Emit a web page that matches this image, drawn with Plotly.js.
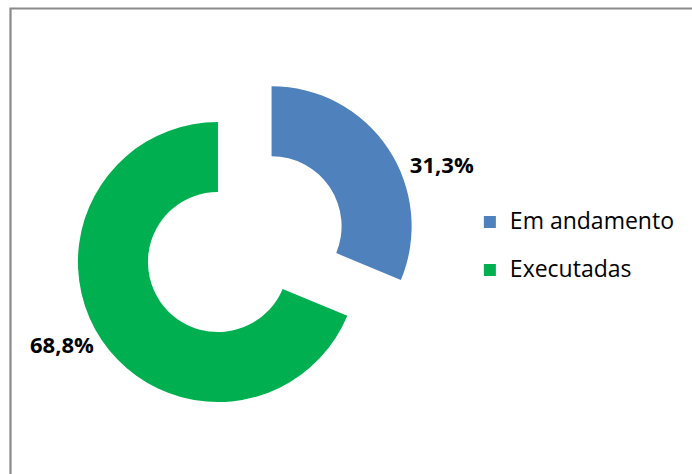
<!DOCTYPE html>
<html>
<head>
<meta charset="utf-8">
<script src="https://cdn.plot.ly/plotly-3.0.1.min.js"></script>
<style>
  html, body { margin: 0; padding: 0; background: #ffffff; }
  #chart { width: 692px; height: 474px; }
</style>
</head>
<body>
<div id="chart"></div>
<script>
var categories = ['Em andamento', 'Executadas'];
var percentValues = [31.3, 68.8];
var sliceColors = ['#4F81BD', '#00B050'];

// label placement helpers (blank leading lines push the outside label down)
var labelLeadingLines = [2, 0];

var labelTexts = percentValues.map(function (v, i) {
  var pre = '';
  for (var k = 0; k < labelLeadingLines[i]; k++) pre += '&nbsp;<br>';
  return pre + v.toFixed(1).replace('.', ',') + '%';
});
var legendLabels = categories.map(function (c) {
  return '<span style="font-size:23px">' + c + '</span><br> ';
});

var trace = {
  type: 'pie',
  labels: legendLabels,
  values: percentValues,
  text: labelTexts,
  textinfo: 'text',
  textposition: 'outside',
  sort: false,
  direction: 'clockwise',
  rotation: 0,
  hole: 0.5,
  pull: [0.46, 0],
  marker: { colors: sliceColors, line: { width: 0 } },
  outsidetextfont: { family: 'Open Sans, sans-serif', size: 22, color: '#000000', weight: 'bold' },
  domain: { x: [0.0195, 0.6105], y: [0.0158, 0.8787] },
  hoverinfo: 'text',
  hovertext: categories
};

var layout = {
  width: 692,
  height: 474,
  margin: { l: 0, r: 0, t: 0, b: 0 },
  paper_bgcolor: '#ffffff',
  showlegend: true,
  legend: {
    x: 0.679,
    xanchor: 'left',
    y: 0.569,
    yanchor: 'top',
    valign: 'top',
    font: { family: 'Open Sans, sans-serif', size: 17.3, color: '#000000' },
    bgcolor: 'rgba(0,0,0,0)'
  },
  shapes: [{
    type: 'rect', xref: 'paper', yref: 'paper',
    x0: 10.5 / 692, x1: 1.05, y0: -0.05, y1: (474 - 8.5) / 474,
    line: { color: '#8a8a8a', width: 2.2 },
    fillcolor: 'rgba(0,0,0,0)', layer: 'below'
  }]
};

Plotly.newPlot('chart', [trace], layout, { displayModeBar: false, staticPlot: true });
</script>
</body>
</html>
